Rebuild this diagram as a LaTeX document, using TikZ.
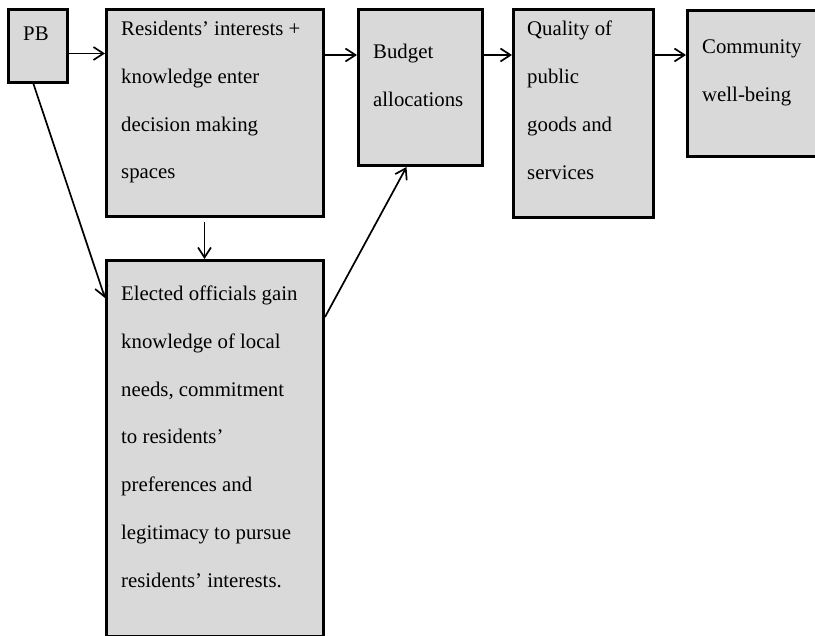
\documentclass[tikz,border=0pt]{standalone}
\usepackage{fontspec}
\setmainfont{Liberation Serif}
\usetikzlibrary{arrows.meta}

\definecolor{boxfill}{HTML}{D9D9D9}

\tikzset{
  stagebox/.style={draw=black, line width=3pt, fill=boxfill, rectangle,
    inner sep=0pt, anchor=north west},
  % the base anchor of a multi-line label sits on its last line
  stagetext/.style={anchor=base west, inner sep=0pt, align=left,
    font=\fontsize{20.8}{47.8}\selectfont},
  link/.style={draw=black, line width=1.7pt,
    -{Straight Barb[length=10pt, width=13pt, line width=1.7pt]}}
}

\begin{document}
\begin{tikzpicture}[x=1pt, y=-1pt]
  \useasboundingbox (0,0) rectangle (815,636);
  \clip (0,0) rectangle (815,636);

  % boxes
  \node[stagebox, minimum width=59pt,  minimum height=73pt]  (pb)   at (7,8)     {};
  \node[stagebox, minimum width=217pt, minimum height=207pt] (res)  at (105,8)   {};
  \node[stagebox, minimum width=124pt, minimum height=156pt] (bud)  at (357,8)   {};
  \node[stagebox, minimum width=140pt, minimum height=208pt] (qual) at (512,8)   {};
  \node[stagebox, minimum width=140pt, minimum height=146pt] (com)  at (686,9)   {};
  \node[stagebox, minimum width=217pt, minimum height=376pt] (ele)  at (105,259) {};

  % labels (positioned by the baseline of their last line)
  \node[stagetext] (pbt)   at (23,41)     {PB};
  \node[stagetext] (rest)  at (121,178.9) {Residents’ interests +\\knowledge enter\\decision making\\spaces};
  \node[stagetext] (budt)  at (373,106.8) {Budget\\allocations};
  \node[stagetext] (qualt) at (527,179.4) {Quality of\\public\\goods and\\services};
  \node[stagetext] (comt)  at (702,101.8) {Community\\well-being};
  \node[stagetext] (elet)  at (121,587.3) {Elected officials gain\\knowledge of local\\needs, commitment\\to residents’\\preferences and\\legitimacy to pursue\\residents’ interests.};

  % connector end points on the box borders
  \coordinate (pbout)   at ([yshift=-7.5pt]pb.east);
  \coordinate (resout)  at ([yshift=-47pt]res.north east);
  \coordinate (budout)  at ([yshift=-47pt]bud.north east);
  \coordinate (qualout) at ([yshift=-47pt]qual.north east);
  \coordinate (resdown) at ([xshift=-10.5pt, yshift=-4pt]res.south);
  \coordinate (pbdown)  at ([xshift=-4.5pt]pb.south);
  \coordinate (elein)   at ([yshift=-39pt]ele.north west);
  \coordinate (eleout)  at ([yshift=-58pt]ele.north east);
  \coordinate (budin)   at ([xshift=-14pt]bud.south);

  % connectors
  \draw[link] (pbout)   -- (pbout -| res.west);
  \draw[link] (resout)  -- (resout -| bud.west);
  \draw[link] (budout)  -- (budout -| qual.west);
  \draw[link] (qualout) -- (qualout -| com.west);
  \draw[link] (resdown) -- (resdown |- ele.north);
  \draw[link] (pbdown)  -- (elein);
  \draw[link] (eleout)  -- (budin);
\end{tikzpicture}
\end{document}
